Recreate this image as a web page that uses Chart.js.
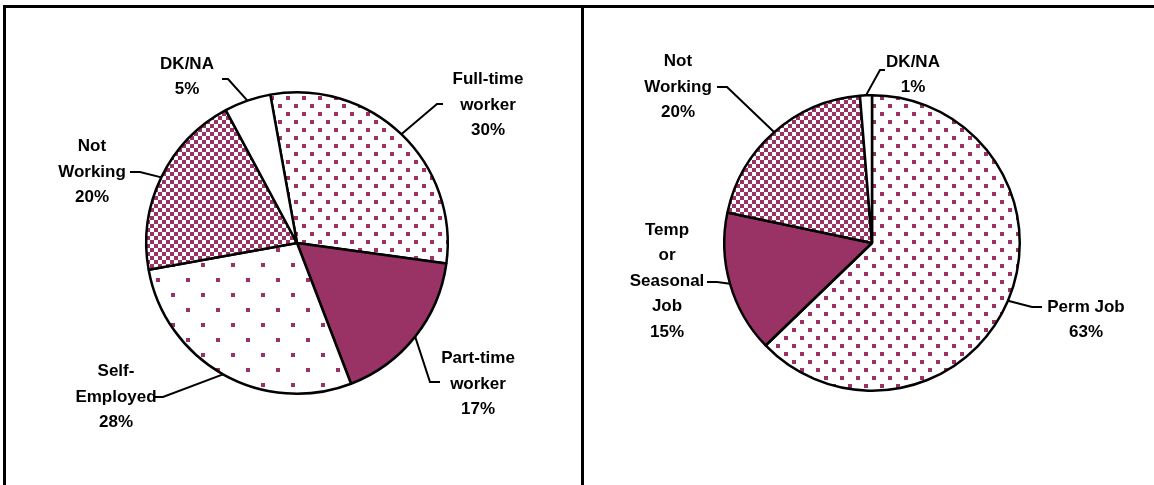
<!DOCTYPE html>
<html>
<head>
<meta charset="utf-8">
<script src="https://cdn.jsdelivr.net/npm/chart.js@4/dist/chart.umd.min.js"></script>
<style>
  html, body { margin: 0; padding: 0; background: #fff; }
  body { width: 1154px; height: 485px; position: relative; overflow: hidden; }
  .panel { position: absolute; top: 5px; height: 490px; border-top: 3px solid #000; border-left: 3px solid #000; }
  #p1 { left: 3px; width: 578px; }
  #p2 { left: 581px; width: 580px; }
  canvas { position: absolute; top: 0; left: 0; }
</style>
</head>
<body>
<div class="panel" id="p1"><canvas id="left-chart" width="576" height="477"></canvas></div>
<div class="panel" id="p2"><canvas id="right-chart" width="570" height="477"></canvas></div>
<script>
// data
const leftCategories = ["Full-time worker", "Part-time worker", "Self-Employed", "Not Working", "DK/NA"];
const leftValues = [30, 17, 28, 20, 5];
const leftPercents = ["30%", "17%", "28%", "20%", "5%"];

const rightCategories = ["Perm Job", "Temp or Seasonal Job", "Not Working", "DK/NA"];
const rightValues = [62.8, 15.5, 20.4, 1.3];
const rightPercents = ["63%", "15%", "20%", "1%"];

// label text, split on lines like the original
const leftLines = [["Full-time", "worker"], ["Part-time", "worker"], ["Self-", "Employed"], ["Not", "Working"], ["DK/NA"]];
const rightLines = [["Perm Job"], ["Temp", "or", "Seasonal", "Job"], ["Not", "Working"], ["DK/NA"]];

const PURPLE = "#993366";

function makePattern(size, draw) {
  const c = document.createElement("canvas");
  c.width = size; c.height = size;
  const g = c.getContext("2d");
  g.fillStyle = "#fff";
  g.fillRect(0, 0, size, size);
  g.fillStyle = PURPLE;
  draw(g);
  return g.createPattern(c, "repeat");
}
const dotsSmall = makePattern(16, g => { g.fillRect(0, 0, 4, 4); g.fillRect(8, 8, 4, 4); });
const dotsLarge = makePattern(30, g => { g.fillRect(0, 0, 4, 4); g.fillRect(15, 15, 4, 4); });
const checker = makePattern(8, g => { g.fillRect(0, 0, 4, 4); g.fillRect(4, 4, 4, 4); });

// label layout, relative to the pie centre: block centre, elbow and end of leader line
const leftLayout = [
  { c: [191, -138], elbow: [140, -139], end: [146, -139] },
  { c: [181, 141], elbow: [133, 139], end: [143, 139] },
  { c: [-181, 154], elbow: [-134, 154], end: [-144, 154] },
  { c: [-205, -71], elbow: [-157, -71], end: [-167, -71] },
  { c: [-110, -166], elbow: [-69, -164], end: [-75, -164] }
];
const rightLayout = [
  { c: [214, 77], elbow: [160, 64], end: [170, 64] },
  { c: [-205, 38], elbow: [-155, 39], end: [-165, 39] },
  { c: [-194, -156], elbow: [-145, -156], end: [-155, -156] },
  { c: [41, -168], elbow: [8, -173], end: [13, -173] }
];

const labelPlugin = {
  id: "pieLabels",
  afterDraw(chart, args, opts) {
    const ctx = chart.ctx;
    const meta = chart.getDatasetMeta(0);
    ctx.save();
    ctx.font = "bold 17px 'Liberation Sans', Arial, sans-serif";
    ctx.fillStyle = "#000";
    ctx.textAlign = "center";
    ctx.textBaseline = "middle";
    ctx.strokeStyle = "#000";
    ctx.lineWidth = 2;
    meta.data.forEach((arc, i) => {
      const p = arc.getProps(["x", "y", "startAngle", "endAngle", "outerRadius"], true);
      const mid = (p.startAngle + p.endAngle) / 2;
      const L = opts.layout[i];
      ctx.beginPath();
      ctx.moveTo(p.x + Math.cos(mid) * p.outerRadius, p.y + Math.sin(mid) * p.outerRadius);
      ctx.lineTo(p.x + L.elbow[0], p.y + L.elbow[1]);
      ctx.lineTo(p.x + L.end[0], p.y + L.end[1]);
      ctx.stroke();
      const lines = opts.lines[i].concat([opts.percents[i]]);
      const lh = 25.5;
      const y0 = p.y + L.c[1] - (lines.length - 1) * lh / 2;
      lines.forEach((t, k) => ctx.fillText(t, p.x + L.c[0], y0 + k * lh));
    });
    ctx.restore();
  }
};

function makePie(id, labels, values, fills, rotation, lines, percents, layout) {
  return new Chart(document.getElementById(id), {
    type: "pie",
    data: {
      labels: labels,
      datasets: [{
        data: values,
        backgroundColor: fills,
        borderColor: "#000",
        borderWidth: 2.5
      }]
    },
    options: {
      responsive: false,
      animation: false,
      rotation: rotation,
      layout: { padding: { left: 139, right: 133, top: 83, bottom: 90 } },
      plugins: {
        legend: { display: false },
        tooltip: { enabled: false },
        pieLabels: { lines: lines, percents: percents, layout: layout }
      }
    },
    plugins: [labelPlugin]
  });
}

makePie("left-chart", leftCategories, leftValues,
  [dotsSmall, PURPLE, dotsLarge, checker, "#fff"], -10.2, leftLines, leftPercents, leftLayout);

makePie("right-chart", rightCategories, rightValues,
  [dotsSmall, PURPLE, checker, "#fff"], 0, rightLines, rightPercents, rightLayout);
</script>
</body>
</html>
